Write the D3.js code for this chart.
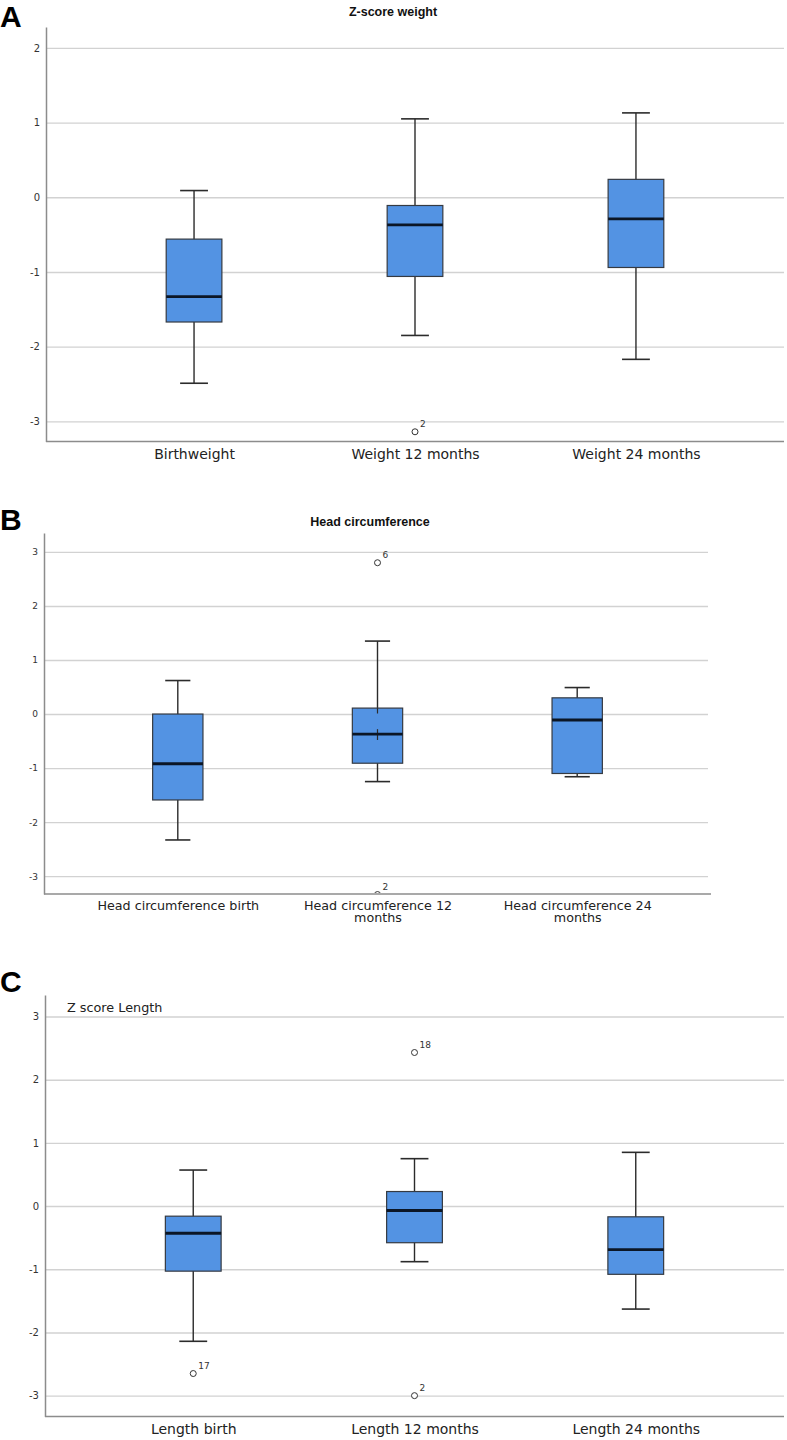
<!DOCTYPE html>
<html><head><meta charset="utf-8">
<script src="https://cdn.jsdelivr.net/npm/d3@7"></script>
<style>body{margin:0;background:#fff;} svg{display:block;}</style>
</head><body>
<script>
// ---------- Panel A: Z-score weight ----------
const weightCategories = ["Birthweight", "Weight 12 months", "Weight 24 months"];
const weightMin    = [-2.49, -1.85, -2.17];
const weightQ1     = [-1.67, -1.06, -0.94];
const weightMedian = [-1.33, -0.37, -0.29];
const weightQ3     = [-0.56, -0.11, 0.24];
const weightMax    = [0.09, 1.05, 1.13];
const weightOutlierCats   = ["Weight 12 months"];
const weightOutlierValues = [-3.14];
const weightOutlierLabels = ["2"];
const weightTicks = [-3, -2, -1, 0, 1, 2];
const weightDomain = [-3.27, 2.28];

// ---------- Panel B: Head circumference ----------
const headCategories = ["Head circumference birth", "Head circumference 12 months", "Head circumference 24 months"];
const headMin    = [-2.33, -1.25, -1.16];
const headQ1     = [-1.59, -0.91, -1.10];
const headMedian = [-0.92, -0.37, -0.11];
const headQ3     = [0.00, 0.11, 0.30];
const headMax    = [0.62, 1.35, 0.49];
const headOutlierCats   = ["Head circumference 12 months", "Head circumference 12 months"];
const headOutlierValues = [2.80, -3.34];
const headOutlierLabels = ["6", "2"];
const headExtraCats = ["Head circumference 12 months", "Head circumference 12 months"];
const headExtraFrom = [0.11, -0.28];
const headExtraTo   = [0.01, -0.48];
const headTicks = [-3, -2, -1, 0, 1, 2, 3];
const headDomain = [-3.33, 3.35];

// ---------- Panel C: Z score Length ----------
const lengthCategories = ["Length birth", "Length 12 months", "Length 24 months"];
const lengthMin    = [-2.14, -0.88, -1.63];
const lengthQ1     = [-1.03, -0.58, -1.08];
const lengthMedian = [-0.43, -0.07, -0.69];
const lengthQ3     = [-0.16, 0.23, -0.17];
const lengthMax    = [0.57, 0.75, 0.85];
const lengthOutlierCats   = ["Length birth", "Length 12 months", "Length 12 months"];
const lengthOutlierValues = [-2.65, 2.43, -3.00];
const lengthOutlierLabels = ["17", "18", "2"];
const lengthTicks = [-3, -2, -1, 0, 1, 2, 3];
const lengthDomain = [-3.33, 3.34];

const FONT = "'DejaVu Sans', sans-serif";
const svg = d3.select("body").append("svg").attr("width", 787).attr("height", 1440);

function wrap(sel, width, lh) {
  sel.each(function () {
    const t = d3.select(this);
    const words = t.text().split(/\s+/);
    const yAttr = t.attr("y"), dy = t.attr("dy");
    t.text(null);
    let line = [];
    let ts = t.append("tspan").attr("x", 0).attr("y", yAttr).attr("dy", dy);
    for (const w of words) {
      line.push(w);
      ts.text(line.join(" "));
      if (ts.node().getComputedTextLength() > width && line.length > 1) {
        line.pop(); ts.text(line.join(" "));
        line = [w];
        ts = t.append("tspan").attr("x", 0).attr("dy", lh + "px").text(w);
      }
    }
  });
}

function panel(cfg) {
  const g = svg.append("g");
  const x = d3.scalePoint().domain(cfg.categories).range([cfg.left, cfg.right]).padding(0.67);
  const y = d3.scaleLinear().domain(cfg.domain).range([cfg.bottom, cfg.top]);
  const step = x.step();
  const bw = step * 0.252;
  const cw = bw / 2;

  // grid
  g.append("g").attr("transform", `translate(${cfg.left},0)`)
    .call(d3.axisLeft(y).tickValues(cfg.ticks).tickSize(-(cfg.gridRight - cfg.left)).tickFormat(""))
    .call(a => { a.select(".domain").remove();
      a.selectAll(".tick line").attr("stroke", "#d2d2d2").attr("stroke-width", 1.4); });

  // left axis with labels
  g.append("g").attr("transform", `translate(${cfg.left},0)`)
    .call(d3.axisLeft(y).tickValues(cfg.ticks).tickSize(0).tickSizeOuter(0).tickPadding(6).tickFormat(d => String(d)))
    .call(a => {
      a.select(".domain").attr("stroke", "#8c8c8c").attr("stroke-width", 1.5);
      a.selectAll("text").attr("font-family", FONT).attr("font-size", cfg.tickSize).attr("fill", "#333");
    });

  // bottom axis
  const xa = g.append("g").attr("transform", `translate(0,${cfg.bottom})`)
    .call(d3.axisBottom(x).tickSize(0).tickSizeOuter(0).tickPadding(cfg.labelPad));
  xa.select(".domain").attr("stroke", "#8c8c8c").attr("stroke-width", 1.5)
    .attr("d", `M${cfg.left},0H${cfg.right}`);
  xa.selectAll("text").attr("font-family", FONT).attr("font-size", cfg.labelSize).attr("fill", "#222")
    .call(wrap, step * 0.86, cfg.labelSize * 0.98);

  const idx = d3.range(cfg.categories.length);
  const boxes = g.append("g");
  // whiskers
  boxes.selectAll(".wh").data(idx).join("line")
    .attr("x1", i => x(cfg.categories[i])).attr("x2", i => x(cfg.categories[i]))
    .attr("y1", i => y(cfg.max[i])).attr("y2", i => y(cfg.min[i]))
    .attr("stroke", "#2b2b2b").attr("stroke-width", 1.4);
  ["max", "min"].forEach(k => {
    boxes.selectAll(".cap" + k).data(idx).join("line")
      .attr("x1", i => x(cfg.categories[i]) - cw / 2).attr("x2", i => x(cfg.categories[i]) + cw / 2)
      .attr("y1", i => y(cfg[k][i])).attr("y2", i => y(cfg[k][i]))
      .attr("stroke", "#2b2b2b").attr("stroke-width", 1.6);
  });
  // boxes
  boxes.selectAll(".bx").data(idx).join("rect")
    .attr("x", i => x(cfg.categories[i]) - bw / 2).attr("width", bw)
    .attr("y", i => y(cfg.q3[i])).attr("height", i => y(cfg.q1[i]) - y(cfg.q3[i]))
    .attr("fill", "#5393e3").attr("stroke", "#353a42").attr("stroke-width", 1.2);
  // extra inner segments
  if (cfg.extraCats) {
    boxes.selectAll(".ex").data(d3.range(cfg.extraCats.length)).join("line")
      .attr("x1", i => x(cfg.extraCats[i])).attr("x2", i => x(cfg.extraCats[i]))
      .attr("y1", i => y(cfg.extraFrom[i])).attr("y2", i => y(cfg.extraTo[i]))
      .attr("stroke", "#2b2b2b").attr("stroke-width", 1.2);
  }
  // medians
  boxes.selectAll(".md").data(idx).join("line")
    .attr("x1", i => x(cfg.categories[i]) - bw / 2).attr("x2", i => x(cfg.categories[i]) + bw / 2)
    .attr("y1", i => y(cfg.median[i])).attr("y2", i => y(cfg.median[i]))
    .attr("stroke", "#0b1626").attr("stroke-width", 2.8);

  // outliers (clipped to plot area)
  const cid = "clip" + cfg.id;
  svg.append("clipPath").attr("id", cid).append("rect")
    .attr("x", cfg.left).attr("y", cfg.top).attr("width", cfg.right - cfg.left).attr("height", cfg.bottom - cfg.top - 1);
  const oi = d3.range(cfg.outCats.length);
  g.append("g").attr("clip-path", `url(#${cid})`).selectAll("circle").data(oi).join("circle")
    .attr("cx", i => x(cfg.outCats[i])).attr("cy", i => y(cfg.outValues[i])).attr("r", 3)
    .attr("fill", "#fff").attr("stroke", "#333").attr("stroke-width", 1);
  g.append("g").selectAll("text").data(oi).join("text")
    .attr("x", i => x(cfg.outCats[i]) + 5).attr("y", i => Math.min(y(cfg.outValues[i]) - 5, cfg.bottom - 4))
    .attr("font-family", FONT).attr("font-size", 9).attr("fill", "#333")
    .text(i => cfg.outLabels[i]);

  // title
  if (cfg.title) {
    g.append("text").attr("x", cfg.titleX).attr("y", cfg.titleY).attr("text-anchor", "middle")
      .attr("font-family", "'Liberation Sans', Arial, sans-serif").attr("font-weight", "bold")
      .attr("font-size", 12.5).attr("fill", "#111").text(cfg.title);
  }
  if (cfg.innerTitle) {
    g.append("text").attr("x", cfg.left + 22).attr("y", cfg.innerTitleY)
      .attr("font-family", FONT).attr("font-size", 12.8).attr("fill", "#222").text(cfg.innerTitle);
  }
  // letter
  g.append("text").attr("x", 0).attr("y", cfg.letterY)
    .attr("font-family", "'Liberation Sans', Arial, sans-serif").attr("font-weight", "bold")
    .attr("font-size", 30).attr("fill", "#000").text(cfg.letter);
}

panel({ id: "A", letter: "A", letterY: 27, title: "Z-score weight", titleX: 393, titleY: 16,
  left: 46, right: 784, gridRight: 784, top: 27, bottom: 441.5,
  categories: weightCategories, min: weightMin, q1: weightQ1, median: weightMedian, q3: weightQ3, max: weightMax,
  outCats: weightOutlierCats, outValues: weightOutlierValues, outLabels: weightOutlierLabels,
  ticks: weightTicks, domain: weightDomain, tickSize: 10, labelSize: 14, labelPad: 8 });

panel({ id: "B", letter: "B", letterY: 530, title: "Head circumference", titleX: 370, titleY: 526,
  left: 44, right: 711, gridRight: 708, top: 533, bottom: 894,
  categories: headCategories, min: headMin, q1: headQ1, median: headMedian, q3: headQ3, max: headMax,
  outCats: headOutlierCats, outValues: headOutlierValues, outLabels: headOutlierLabels,
  extraCats: headExtraCats, extraFrom: headExtraFrom, extraTo: headExtraTo,
  ticks: headTicks, domain: headDomain, tickSize: 9, labelSize: 12.7, labelPad: 7 });

panel({ id: "C", letter: "C", letterY: 992, innerTitle: "Z score Length", innerTitleY: 1012,
  left: 45, right: 784, gridRight: 784, top: 995, bottom: 1416.5,
  categories: lengthCategories, min: lengthMin, q1: lengthQ1, median: lengthMedian, q3: lengthQ3, max: lengthMax,
  outCats: lengthOutlierCats, outValues: lengthOutlierValues, outLabels: lengthOutlierLabels,
  ticks: lengthTicks, domain: lengthDomain, tickSize: 10, labelSize: 14, labelPad: 8 });
</script>
</body></html>
